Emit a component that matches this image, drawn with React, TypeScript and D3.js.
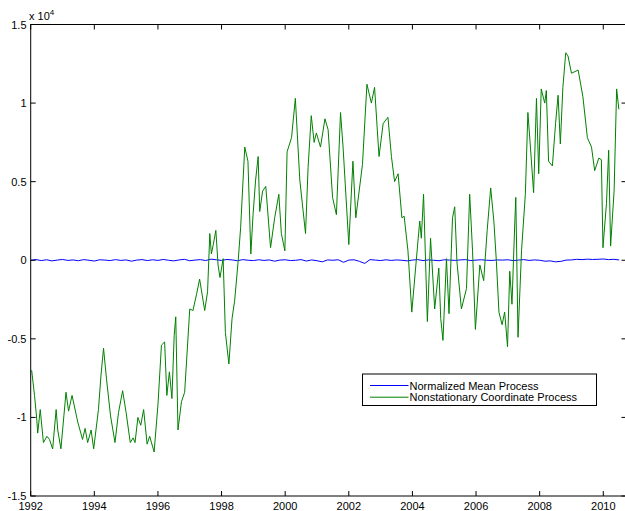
import * as d3 from 'd3'

// green series: decimal year / value (raw units, axis shows x 10^4)
const coordYears = [
  1992.03, 1992.12, 1992.19, 1992.22, 1992.3, 1992.4, 1992.51, 1992.59, 1992.69, 1992.8, 1992.85, 1992.95,
  1993.11, 1993.19, 1993.3, 1993.48, 1993.63, 1993.71, 1993.79, 1993.9, 1993.98,
  1994.13, 1994.21, 1994.29, 1994.38, 1994.51, 1994.65, 1994.76, 1994.89,
  1995.0, 1995.13, 1995.22, 1995.28, 1995.37, 1995.46, 1995.55, 1995.66, 1995.74, 1995.88,
  1996.0, 1996.11, 1996.21, 1996.28, 1996.36, 1996.44, 1996.51, 1996.56, 1996.63, 1996.74, 1996.84,
  1997.0, 1997.1, 1997.21, 1997.31, 1997.47, 1997.56, 1997.63, 1997.68, 1997.74, 1997.82, 1997.89, 1997.95,
  1998.05, 1998.12, 1998.23, 1998.33, 1998.41, 1998.52, 1998.6, 1998.73, 1998.83, 1998.92, 1998.99,
  1999.07, 1999.15, 1999.2, 1999.29, 1999.39, 1999.54, 1999.67, 1999.8, 1999.88, 1999.99,
  2000.06, 2000.2, 2000.32, 2000.46, 2000.64, 2000.72, 2000.82, 2000.91, 2000.98,
  2001.11, 2001.25, 2001.35, 2001.49, 2001.61, 2001.74, 2001.82,
  2002.0, 2002.13, 2002.22, 2002.43, 2002.57, 2002.71, 2002.81, 2002.95,
  2003.08, 2003.23, 2003.34, 2003.44, 2003.55, 2003.67, 2003.74, 2003.86, 2003.98,
  2004.1, 2004.23, 2004.28, 2004.35, 2004.47, 2004.57, 2004.7, 2004.83, 2004.89, 2004.96,
  2005.07, 2005.15, 2005.26, 2005.33, 2005.4, 2005.54, 2005.7, 2005.8, 2005.89, 2005.98,
  2006.12, 2006.24, 2006.35, 2006.46, 2006.56, 2006.64, 2006.72, 2006.82, 2006.9, 2006.99,
  2007.06, 2007.13, 2007.22, 2007.25, 2007.32, 2007.43, 2007.55, 2007.63, 2007.71, 2007.81, 2007.9, 2007.97,
  2008.05, 2008.16, 2008.21, 2008.28, 2008.4, 2008.5, 2008.58, 2008.65, 2008.73, 2008.82, 2008.89,
  2009.0, 2009.21, 2009.36, 2009.5, 2009.63, 2009.73, 2009.86, 2009.94, 2009.99,
  2010.1, 2010.17, 2010.23, 2010.34, 2010.42, 2010.49,
]

const coordValues = [
  -7000, -8600, -10100, -11000, -9500, -11600, -11200, -11400, -12000, -9500, -10800, -12000,
  -8400, -9600, -8600, -10300, -11400, -10700, -11600, -10800, -12000,
  -9500, -7300, -5600, -7500, -9900, -11600, -9700, -8300,
  -9700, -11600, -11300, -11600, -10000, -10500, -9500, -11700, -11200, -12200,
  -9200, -5400, -5200, -8600, -7100, -8800, -4800, -3600, -10800, -9000, -8400,
  -3100, -3200, -2200, -1200, -3200, -2000, 1700, 400, 1000, 1900, -300, -1100,
  100, -4600, -6600, -3700, -2600, -100, 2100, 7200, 6300, 400, 2900,
  5100, 6600, 3100, 4400, 4700, 800, 2700, 4200, 1700, 600,
  6900, 7800, 10300, 5100, 1700, 5900, 9200, 7500, 8100,
  7200, 9000, 8300, 4000, 2900, 9400, 7200,
  1000, 6300, 2700, 6100, 11200, 10000, 11000, 6600,
  8700, 9100, 6600, 5000, 5500, 2700, 2800, 600, -3300,
  -500, 2500, 1400, 4200, -3900, 1400, -3100, -500, -3700, -5100,
  100, -3400, 2700, 3400, -100, -3100, -1800, 4200, 600, -4400,
  -300, -1300, 1900, 4600, 2500, -100, -3300, -4100, -3300, -5500,
  -700, -2800, 2500, 4000, -4900, 600, 4200, 9400, 7200, 4300, 10300, 5500,
  10900, 10000, 10800, 6300, 6000, 8700, 10500, 7400, 11000, 13200, 13000,
  11900, 12100, 10400, 7800, 7200, 5700, 6500, 6400, 800,
  3600, 7000, 900, 4400, 10900, 9600,
]

// blue series: one value every two months starting Jan 1992
const meanStart = 1992
const meanValues = [
  0, 40, -20, 30, -40, 10, 50, -10, 20, -30, 40, 0, -50, 30, 10, -20, 40, -10,
  20, -60, 10, 40, -20, 30, -10, 50, 0, -40, 20, 60, -30, 10, 40, -20, 70, 30,
  -10, 50, 20, -30, 40, 0, -20, 30, -10, 20, -60, 10, 30, -20, 0, 40, -50, 20,
  -30, -100, 20, 0, 30, -130, 10, 30, -70, -200, 40, 10, -20, 30, -10, 20, 0, -40,
  10, 40, -20, 20, 0, -30, 30, 10, -10, 20, 40, -20, 10, 30, 0, -10, 20, 10,
  30, -20, 10, 40, -10, 20, 0, -60, -40, -100, -70, 10, 20, 60, 40, 70, 50, 60,
  80, 40, 60, 20,
]

const xTicks = [1992, 1994, 1996, 1998, 2000, 2002, 2004, 2006, 2008, 2010]
const yTicks = [-15000, -10000, -5000, 0, 5000, 10000, 15000]
const yTickLabels = ['-1.5', '-1', '-0.5', '0', '0.5', '1', '1.5']
const legendLabels = ['Normalized Mean Process', 'Nonstationary Coordinate Process']
const colors = ['#0000ff', '#008000']

const W = 625
const H = 511
const left = 30.7
const right = 626.5
const top = 24.5
const bottom = 496

const font = '"Liberation Sans", Arial, Helvetica, sans-serif'

export default function App() {
  const x = d3.scaleLinear().domain([1992, 2010.73]).range([left, right])
  const y = d3.scaleLinear().domain([-15000, 15000]).range([bottom, top])

  const line = d3
    .line<[number, number]>()
    .x((d) => x(d[0]))
    .y((d) => y(d[1]))

  const meanData: [number, number][] = meanValues.map((v, i) => [meanStart + i / 6, v])
  const coordData: [number, number][] = coordYears.map((yr, i) => [yr, coordValues[i]])

  const lx = 362.5
  const ly = 374
  const lw = 234
  const lh = 31.5

  return (
    <div style={{ position: 'absolute', left: 0, top: 0 }}>
      <svg width={W} height={H} style={{ display: 'block', background: '#fff' }}>
        <defs>
          <clipPath id="plot">
            <rect x={left} y={top} width={right - left} height={bottom - top} />
          </clipPath>
        </defs>
        <g clipPath="url(#plot)" fill="none" strokeWidth={1}>
          <path d={line(meanData) ?? ''} stroke={colors[0]} />
          <path d={line(coordData) ?? ''} stroke={colors[1]} />
        </g>

        {/* box */}
        <rect
          x={left}
          y={top}
          width={right - left}
          height={bottom - top}
          fill="none"
          stroke="#000"
          strokeWidth={1}
        />

        {/* x ticks */}
        {xTicks.map((t) => (
          <g key={t}>
            <line x1={x(t)} x2={x(t)} y1={bottom} y2={bottom - 5} stroke="#000" />
            <line x1={x(t)} x2={x(t)} y1={top} y2={top + 5} stroke="#000" />
            <text
              x={x(t)}
              y={510}
              textAnchor="middle"
              fontFamily={font}
              fontSize={11}
              fill="#000"
            >
              {t}
            </text>
          </g>
        ))}

        {/* y ticks */}
        {yTicks.map((t, i) => (
          <g key={t}>
            <line x1={left} x2={left + 5} y1={y(t)} y2={y(t)} stroke="#000" />
            <line x1={right} x2={right - 5} y1={y(t)} y2={y(t)} stroke="#000" />
            <text
              x={26.5}
              y={y(t) + 4}
              textAnchor="end"
              fontFamily={font}
              fontSize={11}
              fill="#000"
            >
              {yTickLabels[i]}
            </text>
          </g>
        ))}

        {/* exponent */}
        <text x={29} y={20} fontFamily={font} fontSize={11} fill="#000">
          x 10
          <tspan fontSize={8} dy={-5}>
            4
          </tspan>
        </text>

        {/* legend */}
        <rect x={lx} y={ly} width={lw} height={lh} fill="#fff" stroke="#000" strokeWidth={1} />
        {legendLabels.map((label, i) => (
          <g key={label}>
            <line
              x1={lx + 7.5}
              x2={lx + 46}
              y1={ly + 11.5 + i * 11.7}
              y2={ly + 11.5 + i * 11.7}
              stroke={colors[i]}
            />
            <text
              x={lx + 47}
              y={ly + 15.5 + i * 11.7}
              fontFamily={font}
              fontSize={11}
              fill="#000"
            >
              {label}
            </text>
          </g>
        ))}
      </svg>
    </div>
  )
}
